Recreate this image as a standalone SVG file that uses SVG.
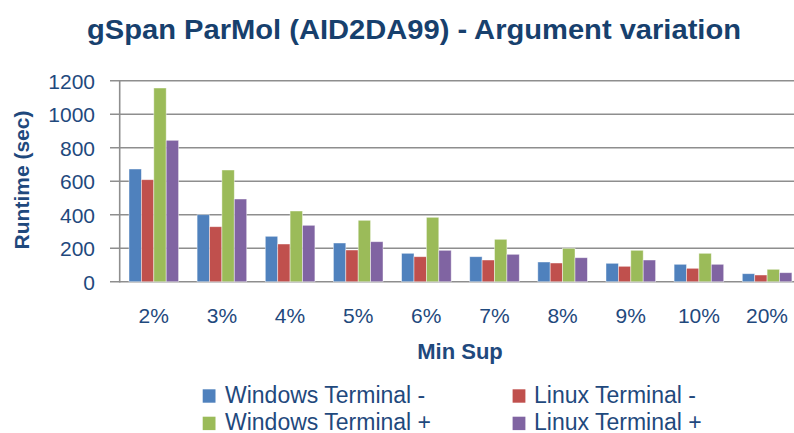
<svg xmlns="http://www.w3.org/2000/svg" width="794" height="433" viewBox="0 0 794 433">
<style>
.t{font-family:"Liberation Sans",Arial,sans-serif;fill:#1F497D}
.title{font-size:27px;font-weight:bold;fill:#17406D}
.tick{font-size:21px;text-anchor:end}
.cat{font-size:21px;text-anchor:middle}
.axt{font-size:21px;font-weight:bold;text-anchor:middle}
.leg{font-size:23px}
.grid{stroke:#8E8E8E;stroke-width:1.6}
.b{fill:#4F81BD}.r{fill:#C0504D}.g{fill:#9BBB59}.p{fill:#8064A2}
.bar rect{stroke:#ffffff;stroke-opacity:0.55;stroke-width:0.8}
</style>
<rect width="794" height="433" fill="#ffffff"/>
<g id="title"><text class="t title" x="87" y="39" textLength="654" lengthAdjust="spacingAndGlyphs">gSpan ParMol (AID2DA99) - Argument variation</text></g>
<g id="grid">
<line class="grid" x1="110" y1="80.7" x2="794" y2="80.7"/>
<line class="grid" x1="110" y1="114.2" x2="794" y2="114.2"/>
<line class="grid" x1="110" y1="147.7" x2="794" y2="147.7"/>
<line class="grid" x1="110" y1="181.2" x2="794" y2="181.2"/>
<line class="grid" x1="110" y1="214.7" x2="794" y2="214.7"/>
<line class="grid" x1="110" y1="248.2" x2="794" y2="248.2"/>
<line class="grid" x1="110" y1="281.7" x2="794" y2="281.7"/>
<line class="grid" x1="119.7" y1="80" x2="119.7" y2="282.5"/>
</g>
<g id="yticks">
<text class="t tick" x="95" y="88.5">1200</text>
<text class="t tick" x="95" y="122">1000</text>
<text class="t tick" x="95" y="155.5">800</text>
<text class="t tick" x="95" y="189">600</text>
<text class="t tick" x="95" y="222.5">400</text>
<text class="t tick" x="95" y="256">200</text>
<text class="t tick" x="95" y="289.5">0</text>
</g>
<g id="ytitle"><text class="t axt" transform="translate(29,180) rotate(-90)">Runtime (sec)</text></g>
<g id="bars" class="bar">
<rect class="b" x="129.0" y="169.0" width="12.4" height="112.7"/>
<rect class="r" x="141.4" y="179.7" width="12.4" height="102.0"/>
<rect class="g" x="153.8" y="88.0" width="12.4" height="193.7"/>
<rect class="p" x="166.2" y="140.3" width="12.4" height="141.4"/>
<rect class="b" x="197.1" y="214.7" width="12.4" height="67.0"/>
<rect class="r" x="209.5" y="226.7" width="12.4" height="55.0"/>
<rect class="g" x="221.9" y="170.0" width="12.4" height="111.7"/>
<rect class="p" x="234.3" y="199.0" width="12.4" height="82.7"/>
<rect class="b" x="265.3" y="236.3" width="12.4" height="45.4"/>
<rect class="r" x="277.7" y="244.0" width="12.4" height="37.7"/>
<rect class="g" x="290.1" y="211.0" width="12.4" height="70.7"/>
<rect class="p" x="302.5" y="225.3" width="12.4" height="56.4"/>
<rect class="b" x="333.4" y="243.0" width="12.4" height="38.7"/>
<rect class="r" x="345.8" y="250.0" width="12.4" height="31.7"/>
<rect class="g" x="358.2" y="220.3" width="12.4" height="61.4"/>
<rect class="p" x="370.6" y="241.7" width="12.4" height="40.0"/>
<rect class="b" x="401.6" y="253.3" width="12.4" height="28.4"/>
<rect class="r" x="414.0" y="256.7" width="12.4" height="25.0"/>
<rect class="g" x="426.4" y="217.3" width="12.4" height="64.4"/>
<rect class="p" x="438.8" y="250.3" width="12.4" height="31.4"/>
<rect class="b" x="469.7" y="256.7" width="12.4" height="25.0"/>
<rect class="r" x="482.1" y="260.0" width="12.4" height="21.7"/>
<rect class="g" x="494.5" y="239.3" width="12.4" height="42.4"/>
<rect class="p" x="506.9" y="254.3" width="12.4" height="27.4"/>
<rect class="b" x="537.8" y="262.0" width="12.4" height="19.7"/>
<rect class="r" x="550.2" y="263.0" width="12.4" height="18.7"/>
<rect class="g" x="562.6" y="248.3" width="12.4" height="33.4"/>
<rect class="p" x="575.0" y="257.7" width="12.4" height="24.0"/>
<rect class="b" x="606.0" y="263.3" width="12.4" height="18.4"/>
<rect class="r" x="618.4" y="266.3" width="12.4" height="15.4"/>
<rect class="g" x="630.8" y="250.3" width="12.4" height="31.4"/>
<rect class="p" x="643.2" y="260.0" width="12.4" height="21.7"/>
<rect class="b" x="674.1" y="264.3" width="12.4" height="17.4"/>
<rect class="r" x="686.5" y="268.3" width="12.4" height="13.4"/>
<rect class="g" x="698.9" y="253.3" width="12.4" height="28.4"/>
<rect class="p" x="711.3" y="264.3" width="12.4" height="17.4"/>
<rect class="b" x="742.3" y="273.7" width="12.4" height="8.0"/>
<rect class="r" x="754.7" y="275.0" width="12.4" height="6.7"/>
<rect class="g" x="767.1" y="269.3" width="12.4" height="12.4"/>
<rect class="p" x="779.5" y="272.7" width="12.4" height="9.0"/>
</g>
<g id="xticks">
<text class="t cat" x="153.8" y="323">2%</text>
<text class="t cat" x="221.9" y="323">3%</text>
<text class="t cat" x="290.0" y="323">4%</text>
<text class="t cat" x="358.2" y="323">5%</text>
<text class="t cat" x="426.3" y="323">6%</text>
<text class="t cat" x="494.5" y="323">7%</text>
<text class="t cat" x="562.6" y="323">8%</text>
<text class="t cat" x="630.8" y="323">9%</text>
<text class="t cat" x="698.9" y="323">10%</text>
<text class="t cat" x="767.0" y="323">20%</text>
</g>
<g id="xtitle"><text class="t axt" x="460" y="359" style="font-size:22px">Min Sup</text></g>
<g id="legend">
<rect class="b" x="202.7" y="389.3" width="12.8" height="13.4"/>
<text class="t leg" x="225" y="403">Windows Terminal -</text>
<rect class="r" x="512.6" y="389.3" width="12.8" height="13.4"/>
<text class="t leg" x="534" y="403">Linux Terminal -</text>
<rect class="g" x="202.7" y="416.7" width="12.8" height="13.4"/>
<text class="t leg" x="225" y="430">Windows Terminal +</text>
<rect class="p" x="512.6" y="416.7" width="12.8" height="13.4"/>
<text class="t leg" x="534" y="430">Linux Terminal +</text>
</g>
</svg>
